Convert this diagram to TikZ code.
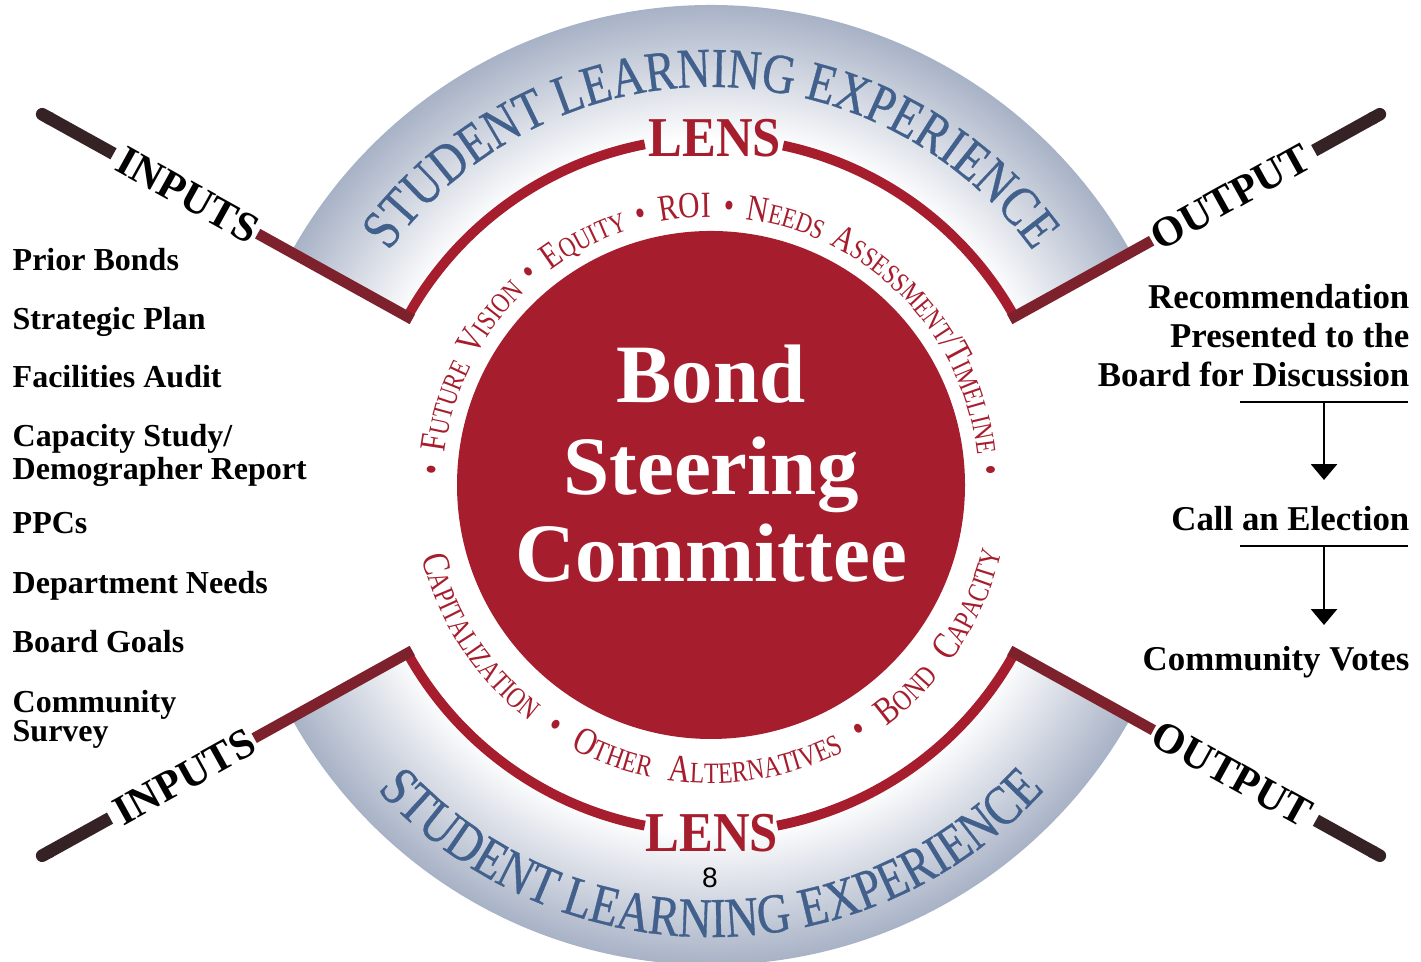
\documentclass[tikz,border=0pt]{standalone}
\usepackage{fontspec}
\setmainfont{Liberation Serif}
\newfontfamily\condserif[FakeStretch=0.9]{Liberation Serif}
\newfontfamily\lensserif[FakeStretch=0.8]{Liberation Serif}
\newfontfamily\bandserif[FakeStretch=0.82,FakeBold=0.6]{Liberation Serif}
\newfontfamily\pagenumfont{Liberation Sans}
\usetikzlibrary{arrows.meta,decorations.text,calc}

\definecolor{diskred}{RGB}{166,29,45}
\definecolor{armred}{RGB}{125,34,45}
\definecolor{stubdark}{RGB}{52,34,37}
\definecolor{slblue}{RGB}{66,96,140}
\definecolor{ringgray}{RGB}{168,178,198}
\pgfdeclareradialshading{ringshade}{\pgfpoint{0bp}{0bp}}{color(0bp)=(white); color(18bp)=(white); color(25bp)=(ringgray); color(50bp)=(ringgray)}

\newcommand{\lbig}{\lensserif\fontsize{10.5}{10.5}\selectfont}
\newcommand{\lsml}{\lensserif\fontsize{8}{8}\selectfont}
\newcommand{\lbigb}{\lensserif\fontsize{11}{11}\selectfont}
\newcommand{\lsmlb}{\lensserif\fontsize{8.4}{8.4}\selectfont}
\newcommand{\slefont}{\bandserif\fontsize{16}{16}\selectfont}

\begin{document}
\begin{tikzpicture}[x=0.01cm,y=0.01cm,
    listitem/.style={anchor=north west,inner sep=0pt,align=left,font=\fontsize{9.1}{8.25}\selectfont\bfseries},
    stepitem/.style={anchor=north east,inner sep=0pt,align=right,font=\fontsize{9.9}{11.1}\selectfont\bfseries},
    steprule/.style={draw=black,line width=0.6pt},
    steparrow/.style={draw=black,line width=0.6pt,-{Triangle[width=7.4pt,length=4.5pt]}},
    armlabel/.style={inner sep=2pt,font=\fontsize{12}{12}\selectfont\bfseries},
    armline/.style={draw=armred,line width=3.1pt,line cap=rect},
    stubline/.style={draw=stubdark,line width=3.6pt,-{Round Cap[]}},
    lensarc/.style={draw=diskred,line width=2.8pt},
    lenslabel/.style={inner sep=0pt,text=diskred,font=\condserif\fontsize{16}{16}\selectfont\bfseries},
    centertitle/.style={anchor=base,inner sep=0pt,text=white,font=\fontsize{23.6}{23.6}\selectfont\bfseries}]
  \useasboundingbox (0,0) rectangle (1421,962);

  \begin{scope}[shift={(711,477)}]
    % grey lens band
    \begin{scope}
      \clip (0,0) -- (29:500) arc[start angle=29,end angle=151,radius=500] -- cycle;
      \shade[shading=ringshade] (0,0) circle[radius=480];
    \end{scope}
    \begin{scope}
      \clip (0,0) -- (209:500) arc[start angle=209,end angle=331,radius=500] -- cycle;
      \shade[shading=ringshade] (0,0) circle[radius=480];
    \end{scope}

    % lens arcs
    \draw[lensarc] (151:347) arc[start angle=151,end angle=101,radius=347];
    \draw[lensarc] (78:347) arc[start angle=78,end angle=29,radius=347];
    \draw[lensarc] (209:347) arc[start angle=209,end angle=259,radius=347];
    \draw[lensarc] (281:347) arc[start angle=281,end angle=331,radius=347];
    \node[lenslabel] (lensTop) at (4,347) {LENS};
    \node[lenslabel] (lensBot) at (1,-348) {LENS};

    % corners and stub ends
    \coordinate (cornerTL) at (151:347);
    \coordinate (cornerTR) at (29:347);
    \coordinate (cornerBL) at (209:347);
    \coordinate (cornerBR) at (331:347);
    \coordinate (tipTL) at (151:771);
    \coordinate (tipTR) at (29:771);
    \coordinate (tipBL) at (209:771);
    \coordinate (tipBR) at (331:771);

    % arms
    \node[armlabel,rotate=-29] (inTop) at (151:598) {INPUTS};
    \node[armlabel,rotate=29] (outTop) at (29:594) {OUTPUT};
    \node[armlabel,rotate=29] (inBot) at (209:602) {INPUTS};
    \node[armlabel,rotate=-29] (outBot) at (331:596) {OUTPUT};
    \draw[armline] (inTop.east) -- (cornerTL);
    \draw[armline] (outTop.west) -- (cornerTR);
    \draw[armline] (inBot.east) -- (cornerBL);
    \draw[armline] (outBot.west) -- (cornerBR);
    \draw[stubline] (inTop.west) -- (tipTL);
    \draw[stubline] (outTop.east) -- (tipTR);
    \draw[stubline] (inBot.west) -- (tipBL);
    \draw[stubline] (outBot.east) -- (tipBR);

    % band text
    \path[decorate,decoration={text along path,text color=slblue,text align=center,
        text={|\slefont|STUDENT LEARNING EXPERIENCE}}]
      (170:398) arc[start angle=170,end angle=10,radius=398];
    \path[decorate,decoration={text along path,text color=slblue,text align=center,
        text={|\slefont|STUDENT LEARNING EXPERIENCE}}]
      (190:452) arc[start angle=190,end angle=350,radius=452];

    % committee disk
    \fill[diskred] (0,0) circle[radius=254];
    \node[centertitle] (bondT) at (0,82) {Bond};
    \node[centertitle] (steerT) at (0,-10) {Steering};
    \node[centertitle] (commT) at (0,-97) {Committee};

    % lens words
    \path[decorate,decoration={text along path,text color=diskred,text align=fit to path stretching spaces,
        text={|\lbig|• F|\lsml|UTURE |\lbig|V|\lsml|ISION |\lbig|• E|\lsml|QUITY |\lbig|• ROI • N|\lsml|EEDS |\lbig|A|\lsml|SSESSMENT|\lbig|/T|\lsml|IMELINE |\lbig|•}}]
      (178:268) arc[start angle=178,end angle=2,radius=268];
    \path[decorate,decoration={text along path,text color=diskred,text align=fit to path stretching spaces,
        text={|\lbigb|C|\lsmlb|APITALIZATION |\lbigb|• O|\lsmlb|THER |\lbigb|A|\lsmlb|LTERNATIVES |\lbigb|• B|\lsmlb|OND |\lbigb|C|\lsmlb|APACITY}}]
      (194:298) arc[start angle=194,end angle=347,radius=298];

    \node[font=\pagenumfont\fontsize{8}{8}\selectfont] (pagenum) at (-1,-393) {8};
  \end{scope}

  % inputs
  \node[listitem] (priorB) at (12,714) {Prior Bonds};
  \node[listitem] (stratP) at (12,655) {Strategic Plan};
  \node[listitem] (facilA) at (12,597) {Facilities Audit};
  \node[listitem] (capacS) at (12,538) {Capacity Study/\\Demographer Report};
  \node[listitem] (ppcs) at (12,450) {PPCs};
  \node[listitem] (deptN) at (12,391) {Department Needs};
  \node[listitem] (boardG) at (12,332) {Board Goals};
  \node[listitem] (commS) at (12,272) {Community\\Survey};

  % output steps
  \node[stepitem] (recom) at (1410,678) {Recommendation\\Presented to the\\Board for Discussion};
  \node[stepitem] (callE) at (1410,456) {Call an Election};
  \node[stepitem] (commV) at (1410,316) {Community Votes};
  \coordinate (ruleA1) at (1240,560);
  \coordinate (ruleA2) at (1408,560);
  \coordinate (ruleB1) at (1240,416);
  \coordinate (ruleB2) at (1408,416);
  \coordinate (tipA) at (1324,482);
  \coordinate (tipB) at (1324,337);
  \draw[steprule] (ruleA1) -- (ruleA2);
  \draw[steprule] (ruleB1) -- (ruleB2);
  \draw[steparrow] ($(ruleA1)!0.5!(ruleA2)$) -- (tipA);
  \draw[steparrow] ($(ruleB1)!0.5!(ruleB2)$) -- (tipB);
\end{tikzpicture}
\end{document}
